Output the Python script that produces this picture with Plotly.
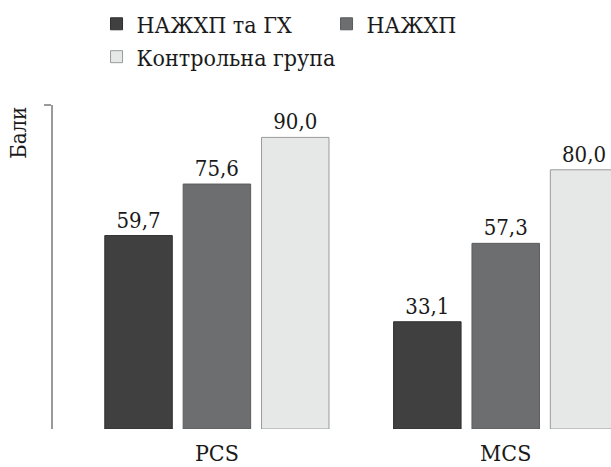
import plotly.graph_objects as go

# Quality-of-life summary scores (SF-36 components)
categories = ["PCS", "MCS"]
series_names = ["НАЖХП та ГХ", "НАЖХП", "Контрольна група"]
values_nafld_ht = [59.7, 33.1]
values_nafld = [75.6, 57.3]
values_control = [90.0, 80.0]

fills = ["#404040", "#6d6e70", "#e6e7e7"]
outlines = ["#2e2e2e", "#5a5b5d", "#9a9a9a"]
serif = "DejaVu Serif Condensed"
ink = "#1a1a1a"

fig = go.Figure()
for name, vals, fc, lc in zip(series_names,
                              [values_nafld_ht, values_nafld, values_control],
                              fills, outlines):
    fig.add_trace(go.Bar(
        x=categories, y=vals, name=name,
        marker=dict(color=fc, line=dict(color=lc, width=1)),
        text=[f"{v:.1f}".replace(".", ",") for v in vals],
        textposition="outside",
        textfont=dict(family=serif, size=22, color=ink),
        cliponaxis=False,
    ))

fig.update_layout(
    width=611, height=467,
    font=dict(family=serif, size=22, color=ink),
    margin=dict(l=53, r=0, t=105, b=38, autoexpand=False),
    paper_bgcolor="white", plot_bgcolor="white",
    barmode="group", bargap=0.186, bargroupgap=0.139,
    showlegend=True,
    legend=dict(
        orientation="h", xref="container", x=0.158, y=0.995, yref="container",
        xanchor="left", yanchor="top",
        entrywidth=185, entrywidthmode="pixels",
        font=dict(family=serif, size=23, color=ink),
        traceorder="normal", itemwidth=30,
    ),
    xaxis=dict(
        range=[-0.5675, 1.3646], automargin=False,
        showline=False, showgrid=False, zeroline=False, ticks="",
        tickfont=dict(family=serif, size=23, color=ink),
        ticklabelstandoff=8,
    ),
    yaxis=dict(
        range=[0, 100], automargin=False,
        showline=True, linecolor="#9a9a9a", linewidth=1.5,
        showgrid=False, zeroline=False,
        tickvals=[100], ticks="outside", ticklen=7, tickcolor="#9a9a9a",
        tickwidth=1.5, showticklabels=False,
    ),
    annotations=[dict(
        text="Бали", textangle=-90,
        xref="paper", x=-0.037, xanchor="right",
        yref="y", y=100, yanchor="top",
        showarrow=False,
        font=dict(family=serif, size=22, color=ink),
    )],
)

fig.write_html("out.html")
